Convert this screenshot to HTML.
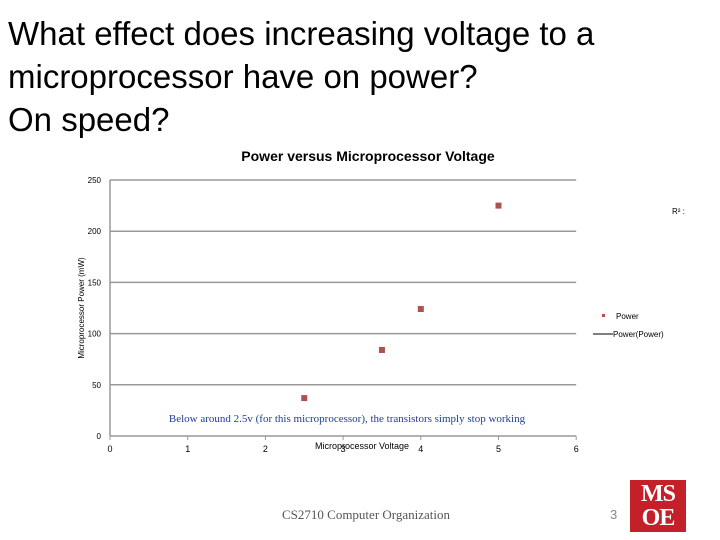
<!DOCTYPE html>
<html><head><meta charset="utf-8"><style>
body{margin:0;width:720px;height:540px;background:#fff;overflow:hidden;position:relative;font-family:"Liberation Sans",sans-serif}
.t{position:absolute;left:8px;top:12px;font-size:33px;line-height:43px;color:#000}
</style></head><body>
<div class="t">What effect does increasing voltage to a<br>microprocessor have on power?<br>On speed?</div>
<svg id="c" width="720" height="540" style="position:absolute;left:0;top:0"></svg>
<div style="position:absolute;left:282px;top:507px;font-family:'Liberation Serif',serif;font-size:13px;color:#555">CS2710 Computer Organization</div>
<div style="position:absolute;left:610px;top:507px;font-size:13px;color:#888">3</div>
<div style="position:absolute;left:630px;top:480px;width:56px;height:52px;background:#c4202a;color:#fff;font-family:'Liberation Serif',serif;font-weight:bold;font-size:24px;line-height:24px;text-align:center;padding-top:2px;box-sizing:border-box;letter-spacing:-1px">MS<br>OE</div>
<script>
const xs=[2.5,3.5,4,5];
const ys=[37,84,124,225];
const yTicks=[0,50,100,150,200,250];
const xTicks=[0,1,2,3,4,5,6];
const svg=document.getElementById('c');const NS='http://www.w3.org/2000/svg';
const X=v=>110+v*77.7, Y=v=>436-v*1.024;
function mk(t,a,txt,n){const e=document.createElementNS(NS,t);for(const k in a)e.setAttribute(k,a[k]);if(txt!=null)e.textContent=txt;


svg.appendChild(e);return e;}
const F='Liberation Sans, sans-serif';
mk('text',{x:368,y:161,'text-anchor':'middle','font-size':14,'font-weight':'bold','font-family':F},'Power versus Microprocessor Voltage','chart-title');
yTicks.forEach(v=>{mk('line',{x1:X(0),x2:X(6),y1:Y(v),y2:Y(v),stroke:'#999','stroke-width':1.5},null,'gridline');
mk('text',{x:101,y:Y(v)+3,'text-anchor':'end','font-size':8,'font-family':F},v,'y-tick-label');});
mk('line',{x1:X(0),x2:X(0),y1:Y(0),y2:Y(250),stroke:'#999','stroke-width':1.5},null,'y-axis');
xTicks.forEach(v=>{mk('line',{x1:X(v),x2:X(v),y1:Y(0),y2:Y(0)+4,stroke:'#999'},null,'x-tick');
mk('text',{x:X(v),y:452,'text-anchor':'middle','font-size':9,'font-family':F},v,'x-tick-label');});
mk('text',{x:362,y:449,'text-anchor':'middle','font-size':9,'font-family':F},'Microprocessor Voltage','x-axis-title');
mk('text',{x:84,y:308,'text-anchor':'middle','font-size':8,'font-family':F,transform:'rotate(-90 84 308)'},'Microprocessor Power (mW)','y-axis-title');
xs.forEach((v,i)=>mk('rect',{x:X(v)-3,y:Y(ys[i])-3,width:6,height:6,fill:'#b05050'},null,'data-point'));
mk('text',{x:347,y:422,'text-anchor':'middle','font-size':11,'font-family':'Liberation Serif, serif',fill:'#1f3d9a'},'Below around 2.5v (for this microprocessor), the transistors simply stop working','annotation');
mk('text',{x:672,y:214,'font-size':8,'font-family':F},'R² :','r-squared');
mk('rect',{x:602,y:314,width:3,height:3,fill:'#b05050'},null,'legend-marker');
mk('text',{x:616,y:319,'font-size':8,'font-family':F},'Power','legend-power');
mk('line',{x1:593,x2:613,y1:334,y2:334,stroke:'#000'},null,'legend-line');
mk('text',{x:613,y:337,'font-size':8,'font-family':F},'Power(Power)','legend-trend');
</script>
</body></html>
